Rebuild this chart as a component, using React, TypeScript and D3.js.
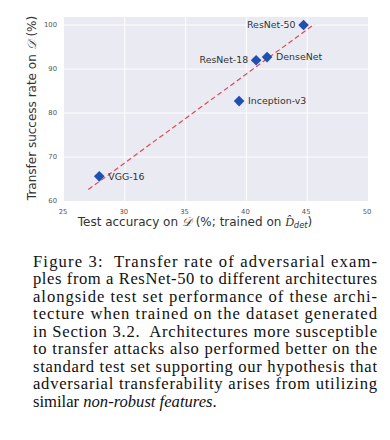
import React from "react";
import * as d3 from "d3";

// models and their measured values
const models = ["ResNet-50", "ResNet-18", "DenseNet", "Inception-v3", "VGG-16"];
const testAccuracy = [44.7, 40.8, 41.7, 39.4, 27.9];
const transferRate = [100.0, 92.0, 92.7, 82.7, 65.6];
const labelSide = ["left", "left", "right", "right", "right"];

// fitted trend line endpoints
const fitX = [27.0, 45.6];
const fitY = [62.6, 100.2];

const xTicks = [25, 30, 35, 40, 45, 50];
const yTicks = [60, 70, 80, 90, 100];

const captionLines = [
  "Figure 3:  Transfer rate of adversarial exam-",
  "ples from a ResNet-50 to different architectures",
  "alongside test set performance of these archi-",
  "tecture when trained on the dataset generated",
  "in Section 3.2.  Architectures more susceptible",
  "to transfer attacks also performed better on the",
  "standard test set supporting our hypothesis that",
  "adversarial transferability arises from utilizing",
];

const W = 390;
const H = 440;
const plot = { left: 64, right: 368, top: 17, bottom: 201 };
const sans = "'DejaVu Sans', sans-serif";
const serif = "'Liberation Serif', 'DejaVu Serif', serif";

const App = () => {
  const x = d3.scaleLinear().domain([25, 50]).range([plot.left, plot.right]);
  const y = d3.scaleLinear().domain([60, 100]).range([plot.bottom, 25]);

  const fitLine = d3
    .line<number>()
    .x((d, i) => x(fitX[i]))
    .y((d, i) => y(fitY[i]));

  const diamond = d3.symbol().type(d3.symbolDiamond2).size(72)();

  return (
    <svg width={W} height={H} style={{ position: "absolute", left: 0, top: 0, background: "#fff" }}>
      {/* plot area */}
      <rect
        x={plot.left}
        y={plot.top}
        width={plot.right - plot.left}
        height={plot.bottom - plot.top}
        fill="#eaeaf2"
      />
      {xTicks.slice(1, -1).map((t) => (
        <line key={"gx" + t} x1={x(t)} x2={x(t)} y1={plot.top} y2={plot.bottom} stroke="#fff" strokeWidth={1} />
      ))}
      {yTicks.slice(1).map((t) => (
        <line key={"gy" + t} x1={plot.left} x2={plot.right} y1={y(t)} y2={y(t)} stroke="#fff" strokeWidth={1} />
      ))}

      {/* tick labels */}
      {xTicks.map((t) => (
        <text key={"tx" + t} x={x(t) - 1} y={214} textAnchor="middle" fontSize={6.8} fill="#555" fontFamily={sans}>
          {t}
        </text>
      ))}
      {yTicks.map((t) => (
        <text key={"ty" + t} x={57} y={y(t) + 2.4} textAnchor="end" fontSize={6.8} fill="#555" fontFamily={sans}>
          {t}
        </text>
      ))}

      {/* axis titles */}
      <text x={195} y={226} textAnchor="middle" fontSize={12} fill="#333" fontFamily={sans}>
        Test accuracy on <tspan fontStyle="italic" fontFamily={serif}>𝒟</tspan> (%; trained on{" "}
        <tspan fontStyle="italic" fontFamily={serif}>{"D\u0302"}</tspan>
        <tspan fontSize={8.4} dy={2} fontStyle="italic">det</tspan>
        <tspan dy={-2}>)</tspan>
      </text>
      <text
        transform={`translate(36, 108) rotate(-90)`}
        textAnchor="middle"
        fontSize={12}
        fill="#333"
        fontFamily={sans}
      >
        Transfer success rate on <tspan fontStyle="italic" fontFamily={serif}>𝒟</tspan> (%)
      </text>

      {/* trend line */}
      <path d={fitLine(fitX) || ""} fill="none" stroke="#e0485a" strokeWidth={1.2} strokeDasharray="5,3" />

      {/* points */}
      {models.map((m, i) => (
        <g key={m}>
          <path d={diamond || ""} transform={`translate(${x(testAccuracy[i])},${y(transferRate[i])})`} fill="#1f4fb0" />
          <text
            x={x(testAccuracy[i]) + (labelSide[i] === "left" ? -8 : 9)}
            y={y(transferRate[i]) + 3.2}
            textAnchor={labelSide[i] === "left" ? "end" : "start"}
            fontSize={9.4}
            fill="#333"
            fontFamily={sans}
          >
            {m}
          </text>
        </g>
      ))}

      {/* caption */}
      {captionLines.map((line, i) => (
        <text
          key={i}
          x={33}
          y={266.7 + i * 17.5}
          fontSize={16.6}
          fontFamily={serif}
          fill="#111"
          textLength={344}
          lengthAdjust="spacing"
          style={{ whiteSpace: "pre" }}
        >
          {line}
        </text>
      ))}
      <text x={33} y={266.7 + captionLines.length * 17.5} fontSize={16.6} fontFamily={serif} fill="#111">
        similar <tspan fontStyle="italic">non-robust features</tspan>.
      </text>
    </svg>
  );
};

export default App;
